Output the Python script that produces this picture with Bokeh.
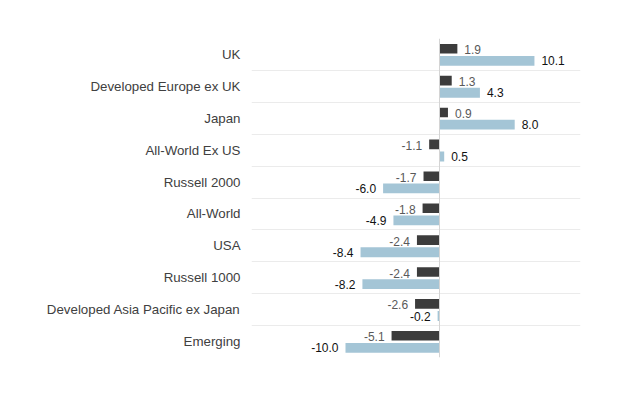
from bokeh.plotting import figure
from bokeh.models import Range1d, FixedTicker, Span, ColumnDataSource
from bokeh.core.properties import value
from bokeh.embed import file_html
from bokeh.resources import INLINE

categories = ["UK", "Developed Europe ex UK", "Japan", "All-World Ex US", "Russell 2000",
              "All-World", "USA", "Russell 1000", "Developed Asia Pacific ex Japan", "Emerging"]
series_dark = [1.9, 1.3, 0.9, -1.1, -1.7, -1.8, -2.4, -2.4, -2.6, -5.1]
series_light = [10.1, 4.3, 8.0, 0.5, -6.0, -4.9, -8.4, -8.2, -0.2, -10.0]

DARK = "#3c3c3c"
LIGHT = "#a4c5d6"
FONT = "Liberation Sans"

n = len(categories)
rows = list(range(n))

p = figure(width=620, height=385, output_backend="svg", toolbar_location=None,
           x_range=Range1d(-20, 15), y_range=Range1d(n, 0),
           min_border_left=251, min_border_right=40, min_border_top=38, min_border_bottom=28)
p.outline_line_color = None
p.background_fill_color = "white"
p.border_fill_color = "white"

dark_src = ColumnDataSource(dict(
    y=[r + 0.32 for r in rows], v=series_dark,
    label=[f"{v:.1f}" for v in series_dark],
    align=["left" if v >= 0 else "right" for v in series_dark],
    xo=[7 if v >= 0 else -7 for v in series_dark]))
light_src = ColumnDataSource(dict(
    y=[r + 0.70 for r in rows], v=series_light,
    label=[f"{v:.1f}" for v in series_light],
    align=["left" if v >= 0 else "right" for v in series_light],
    xo=[7 if v >= 0 else -7 for v in series_light]))

p.hbar(y="y", left=0, right="v", height=0.3, source=dark_src, fill_color=DARK, line_color=None)
p.hbar(y="y", left=0, right="v", height=0.31, source=light_src, fill_color=LIGHT, line_color=None)

p.text(x="v", y="y", text="label", source=dark_src, text_align="align", x_offset="xo", y_offset=1,
       text_baseline="middle", text_font=value(FONT), text_font_size="12px", text_color="#595959")
p.text(x="v", y="y", text="label", source=light_src, text_align="align", x_offset="xo",
       text_baseline="middle", text_font=value(FONT), text_font_size="12px", text_color="#111111")

p.add_layout(Span(location=0, dimension="height", line_color="#d4d4d4", line_width=1))

p.xaxis.visible = False
p.xgrid.grid_line_color = None
p.ygrid.ticker = FixedTicker(ticks=list(range(n + 1)))
p.ygrid.grid_line_color = "#ebebeb"

yax = p.yaxis[0]
yax.ticker = FixedTicker(ticks=[r + 0.5 for r in rows])
yax.major_label_overrides = {r + 0.5: c for r, c in zip(rows, categories)}
yax.axis_line_color = None
yax.major_tick_line_color = None
yax.minor_tick_line_color = None
yax.major_tick_out = 0
yax.major_tick_in = 0
yax.major_label_standoff = 11
yax.major_label_text_font = FONT
yax.major_label_text_font_size = "13.3px"
yax.major_label_text_color = "#404040"

open("out.html", "w").write(file_html(p, INLINE))
